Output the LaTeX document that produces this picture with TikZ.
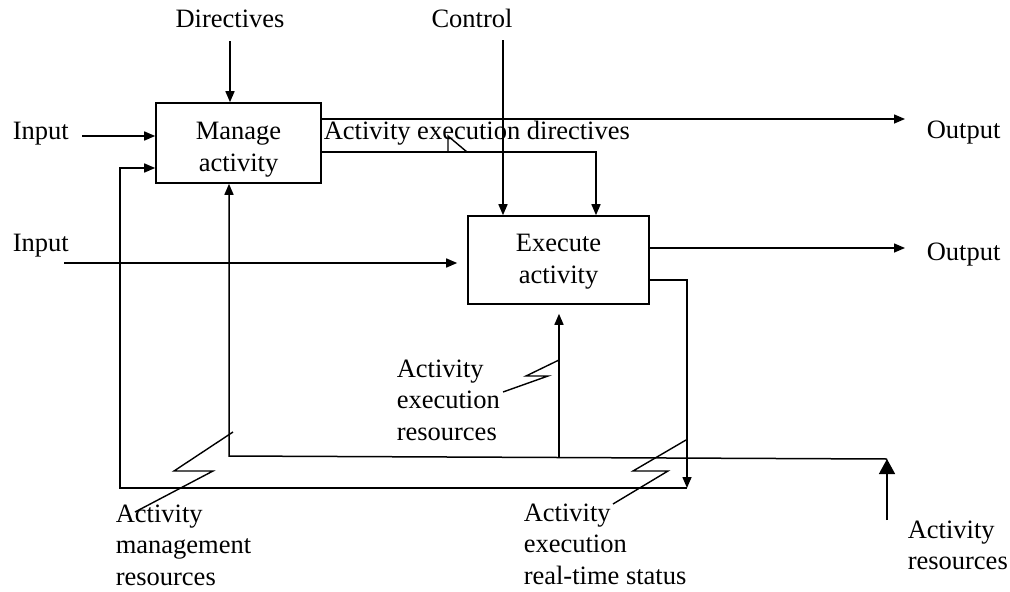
\documentclass[tikz,border=0pt]{standalone}
\usepackage{fontspec}
\setmainfont{Liberation Serif}
\usetikzlibrary{arrows.meta}
\begin{document}
\begin{tikzpicture}[x=1pt, y=-1pt,
  font=\fontsize{26.5}{31.5}\selectfont,
  line width=1.5pt,
  box/.style={draw, line width=1.6pt, inner sep=0pt},
  lbl/.style={inner sep=0pt},
  arr/.style={-{Triangle[length=11pt,width=9pt]}},
  bigarr/.style={-{Triangle[length=15pt,width=16pt]}},
  bolt/.style={line width=1.4pt, line join=miter}]
\useasboundingbox (0,0) rectangle (1010,592);

% activity boxes
\node[box, minimum width=165pt, minimum height=80pt] (manage) at (238.5,143) {};
\node[lbl, align=center, anchor=north] (managetxt) at (238.5,121.5) {Manage\\activity};
\node[box, minimum width=181pt, minimum height=88pt] (exec) at (558.5,260) {};
\node[lbl, align=center, anchor=north] (exectxt) at (558.5,233.5) {Execute\\activity};

% labels
\node[lbl, anchor=base] (dir) at (230,27) {Directives};
\node[lbl, anchor=base] (ctl) at (472,27) {Control};
\node[lbl, anchor=base west] (in1) at (12,139) {Input};
\node[lbl, anchor=base west] (in2) at (12,251) {Input};
\node[lbl, anchor=base west] (out1) at (926,138) {Output};
\node[lbl, anchor=base west] (out2) at (926,260) {Output};
\node[lbl, anchor=base west] (aed) at (323,139) {Activity execution directives};
\node[lbl, align=left, anchor=north west] (aer) at (396,359) {Activity\\execution\\resources};
\node[lbl, align=left, anchor=north west] (amr) at (115,504) {Activity\\management\\resources};
\node[lbl, align=left, anchor=north west] (aes) at (523,503) {Activity\\execution\\real-time status};
\node[lbl, align=left, anchor=north west] (ares) at (907,520) {Activity\\resources};

% free ends of connectors
\coordinate (in1s) at (82,136);
\coordinate (in2s) at (64,263);
\coordinate (ctltop) at (503,40);
\coordinate (out1e) at (905,119);
\coordinate (out2e) at (905,248);
\coordinate (aedx) at (596,152);
\coordinate (st) at (687,280);
\coordinate (stb) at (687,488);
\coordinate (fbl) at (120,488);
\coordinate (fbu) at (120,168);
\coordinate (rj) at (887,459);
\coordinate (rl) at (229,456);
\coordinate (rx) at (559,457.5);
\coordinate (ar0) at (887,520);

% inputs and controls
\draw[arr, shorten <=13pt] (dir.south) -- (dir.south |- manage.north);
\draw[arr] (ctltop) -- (ctltop |- exec.north);
\draw[arr] (in1s) -- (in1s -| manage.west);
\draw[arr, shorten >=10pt] (in2s) -- (in2s -| exec.west);

% outputs
\draw[arr] (manage.east |- out1e) -- (out1e);
\draw[arr] (exec.east |- out2e) -- (out2e);
\draw[arr] (manage.east |- aedx) -- (aedx) -- (aedx |- exec.north);

% real-time status feedback
\draw[arr] (exec.east |- st) -- (st) -- (stb);
\draw[arr] (stb) -- (fbl) -- (fbu) -- (manage.west |- fbu);

% resources
\draw[bigarr] (ar0) -- (rj);
\draw[arr] (rj) -- (rl) -- (rl |- manage.south);
\draw[arr, shorten >=9pt] (rx) -- (rx |- exec.south);

% label leaders
\draw[bolt] (448,152) -- (448,136) -- (467,152);
\draw[bolt] (233,432) -- (174,471) -- (213,471) -- (135,512);
\draw[bolt] (686,440) -- (633,471) -- (668,471) -- (613,504);
\draw[bolt] (559,360) -- (526,376) -- (548,376) -- (503,392);
\end{tikzpicture}
\end{document}
